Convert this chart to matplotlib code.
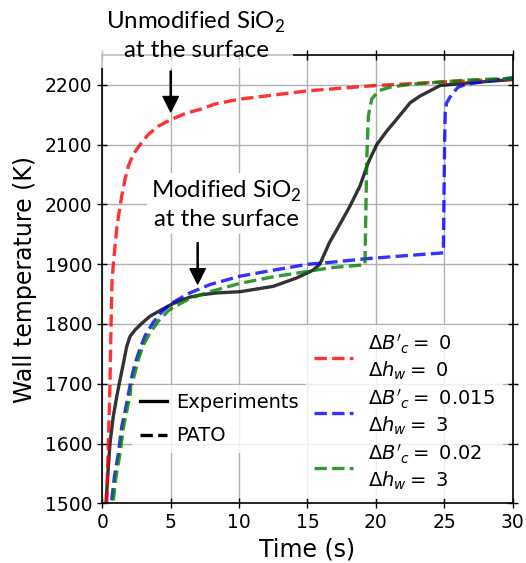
import matplotlib
matplotlib.use("Agg")
import matplotlib.pyplot as plt
from matplotlib.lines import Line2D

# Measured wall temperature (experiments)
exp_t = [0.27, 0.39, 0.56, 0.8, 1.05, 1.29, 1.54, 1.78, 2.02, 2.39, 2.88, 3.49, 4.34,
         5.07, 5.8, 6.41, 7.3, 8.36, 10.07, 12.5, 14.2, 15.4, 15.9, 16.6, 17.2, 18.1,
         18.84, 19.44, 20.06, 20.8, 21.5, 22.5, 23.2, 24.2, 24.7, 26.6, 30.0]
exp_T = [1500, 1544, 1600, 1645, 1678, 1706, 1734, 1762, 1779, 1790, 1801, 1813, 1824,
         1833, 1840, 1845, 1849, 1852, 1854, 1863, 1877, 1890, 1900, 1936, 1960, 1997,
         2031, 2070, 2100, 2123, 2142, 2170, 2181, 2193, 2199, 2203, 2209]

# PATO simulations
red_t = [0.32, 0.44, 0.56, 0.64, 0.71, 0.8, 0.93, 1.05, 1.22, 1.42, 1.66, 1.9, 2.27,
         2.76, 3.36, 4.1, 5.02, 6.05, 7.27, 8.24, 10, 15, 20, 25, 30]
red_T = [1500, 1600, 1698, 1800, 1870, 1899, 1930, 1958, 1986, 2014, 2042, 2064, 2084,
         2100, 2117, 2131, 2142, 2152, 2160, 2168, 2176, 2190, 2199, 2205, 2210]

blue_t = [0.69, 0.88, 1.17, 1.42, 1.78, 2.1, 2.39, 2.76, 3.12, 3.73, 4.34, 5.07, 6.41,
          7.87, 10.07, 12.5, 15.06, 16.6, 19.2, 22, 24.93, 24.97, 25.02, 25.07, 25.17,
          25.54, 26.0, 26.6, 28, 30]
blue_T = [1505, 1544, 1583, 1628, 1667, 1706, 1734, 1759, 1780, 1803, 1820, 1835, 1852,
          1866, 1880, 1890, 1900, 1903, 1909, 1914, 1919, 2000, 2100, 2154, 2170,
          2184, 2196, 2201, 2206, 2212]

green_t = [0.8, 1.0, 1.29, 1.55, 1.9, 2.25, 2.63, 3.0, 3.49, 4.1, 4.82, 5.07, 6.41,
           7.87, 10.07, 12.5, 15.06, 16.6, 19.2, 19.33, 19.45, 19.69, 20.18, 21.0,
           22.5, 26.6, 30]
green_T = [1505, 1544, 1583, 1628, 1667, 1706, 1740, 1765, 1785, 1805, 1822, 1826, 1843,
           1854, 1868, 1879, 1888, 1894, 1899, 2075, 2148, 2176, 2190, 2196,
           2201, 2208, 2211]

labels = [r"$\Delta B'_c =$ 0" + "\n" + r"$\Delta h_w =$ 0",
          r"$\Delta B'_c =$ 0.015" + "\n" + r"$\Delta h_w =$ 3",
          r"$\Delta B'_c =$ 0.02" + "\n" + r"$\Delta h_w =$ 3"]

x_ticks = [0, 5, 10, 15, 20, 25, 30]
y_ticks = [1500, 1600, 1700, 1800, 1900, 2000, 2100, 2200]

fig = plt.figure(figsize=(5.26, 5.63), dpi=100)
ax = fig.add_axes([0.1945, 0.106, 0.7802, 0.7963])

lw = 2.4
ax.plot(exp_t, exp_T, color="k", alpha=0.8, lw=lw)
l_red, = ax.plot(red_t, red_T, "--", color="r", alpha=0.8, lw=lw)
l_blue, = ax.plot(blue_t, blue_T, "--", color="b", alpha=0.8, lw=lw)
l_green, = ax.plot(green_t, green_T, "--", color="g", alpha=0.8, lw=lw)

ax.set_xlim(0, 30)
ax.set_ylim(1500, 2250)
ax.set_xticks(x_ticks)
ax.set_yticks(y_ticks)
ax.grid(True, color="#b0b0b0", lw=1)
ax.set_axisbelow(True)
ax.tick_params(direction="inout", length=7, width=1, top=True, right=True,
               labelsize=13.5)
for s in ax.spines.values():
    s.set_linewidth(1.2)
ax.set_xlabel("Time (s)", fontsize=17, labelpad=4)
ax.set_ylabel("Wall temperature (K)", fontsize=17, labelpad=6)

# Legend for line types
style_handles = [Line2D([], [], color="k", lw=lw),
                 Line2D([], [], color="k", ls="--", lw=lw)]
leg1 = ax.legend(style_handles, ["Experiments", "PATO"], loc="lower left",
                 bbox_to_anchor=(0.072, 0.112), borderaxespad=0, fontsize=14,
                 handlelength=1.4, handletextpad=0.5, labelspacing=0.75,
                 frameon=True, framealpha=0.8, edgecolor="none", fancybox=False)
ax.add_artist(leg1)

# Legend for model parameters
ax.legend([l_red, l_blue, l_green], labels, loc="lower right",
          bbox_to_anchor=(1.0, -0.013), fontsize=14,
          frameon=True, framealpha=0.8, edgecolor="none", fancybox=False,
          labelspacing=0.3)

fam = ["Lato", "DejaVu Sans"]
ax.text(6.85, 2283, "Unmodified SiO$_\\mathregular{2}$\nat the surface",
        ha="center", va="center", fontsize=17.3, family=fam, linespacing=1.3,
        clip_on=False, zorder=5,
        bbox=dict(facecolor="white", edgecolor="none", alpha=0.75, pad=5))
ax.annotate("", xy=(5.0, 2155), xytext=(5.0, 2223),
            arrowprops=dict(facecolor="black", edgecolor="black", width=0.8,
                            headwidth=11, headlength=11, shrink=0), zorder=6)

ax.text(9.05, 2000, "Modified SiO$_\\mathregular{2}$\nat the surface",
        ha="center", va="center", fontsize=17.3, family=fam, linespacing=1.25,
        zorder=5, bbox=dict(facecolor="white", edgecolor="none", alpha=1, pad=3))
ax.annotate("", xy=(6.97, 1867), xytext=(6.97, 1936),
            arrowprops=dict(facecolor="black", edgecolor="black", width=0.8,
                            headwidth=11, headlength=11, shrink=0), zorder=6)

fig.savefig("out.png", dpi=100)
